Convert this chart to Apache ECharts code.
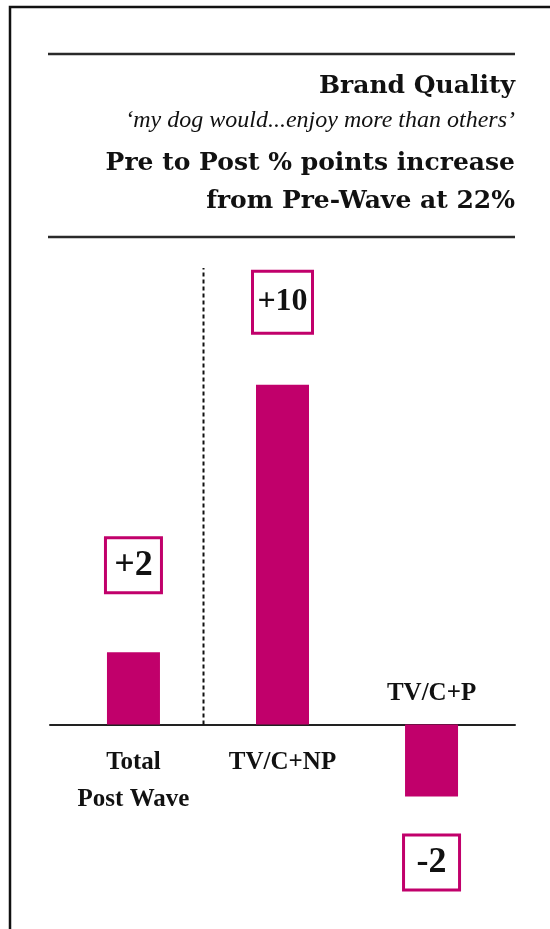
<!DOCTYPE html>
<html>
<head>
<meta charset="utf-8">
<script src="https://cdn.jsdelivr.net/npm/echarts@6/dist/echarts.min.js"></script>
<style>
  html, body { margin: 0; padding: 0; background: #fff; }
  #chart { width: 550px; height: 929px; }
</style>
</head>
<body>
<div id="chart"></div>
<script>
// chart data
const categories = ["Total\nPost Wave", "TV/C+NP", "TV/C+P"];
const values = [2.1, 9.9, -2.1];
const valueLabels = ["+2", "+10", "-2"];
const titleLines = [
  "Brand Quality",
  "\u2018my dog would...enjoy more than others\u2019",
  "Pre to Post % points increase",
  "from Pre-Wave at 22%",
];
// divider between total and the split (x in category units, y top)
const dividerX = 0.47;
const dividerTop = 13.3;

const magenta = "#c1006b";
const serifBold = "'DejaVu Serif', serif";
const serifText = "'Liberation Serif', 'Times New Roman', serif";

const chart = echarts.init(document.getElementById("chart"));

const titleStyles = [
  { top: 74, fontSize: 25, fontWeight: "bold", fontStyle: "normal", font: serifBold },
  { top: 109, fontSize: 24, fontWeight: "normal", fontStyle: "italic", font: serifText },
  { top: 151, fontSize: 25, fontWeight: "bold", fontStyle: "normal", font: serifBold },
  { top: 189, fontSize: 25, fontWeight: "bold", fontStyle: "normal", font: serifBold },
];

const title = titleLines.map((t, i) => ({
  text: t,
  right: 35,
  top: titleStyles[i].top,
  padding: 0,
  textStyle: {
    fontFamily: titleStyles[i].font,
    fontSize: titleStyles[i].fontSize,
    fontWeight: titleStyles[i].fontWeight,
    fontStyle: titleStyles[i].fontStyle,
    lineHeight: titleStyles[i].fontSize,
    color: "#111",
  },
}));

// value box label settings per bar
const boxSpec = [
  { w: 53, h: 52, size: 36, dist: 61 },
  { w: 57, h: 59, size: 32, dist: 53 },
  { w: 53, h: 52, size: 36, dist: 40 },
];

const barData = values.map((v, i) => ({
  value: [i, v],
  label: {
    show: true,
    position: v < 0 ? "bottom" : "top",
    verticalAlign: v < 0 ? "top" : "bottom",
    distance: boxSpec[i].dist,
    formatter: valueLabels[i],
    width: boxSpec[i].w,
    height: boxSpec[i].h,
    lineHeight: boxSpec[i].h,
    align: "center",
    backgroundColor: "#fff",
    borderColor: magenta,
    borderWidth: 3,
    fontFamily: serifText,
    fontWeight: "bold",
    fontSize: boxSpec[i].size,
    color: "#111",
  },
}));

const catLabelData = categories.map((c, i) => ({
  value: [i, 0],
  name: c,
  label: {
    show: true,
    position: values[i] < 0 ? "top" : "bottom",
    distance: values[i] < 0 ? 12 : 20,
    formatter: "{b}",
    fontFamily: serifText,
    fontWeight: "bold",
    fontSize: 25,
    lineHeight: 37,
    align: "center",
    color: "#111",
  },
}));

const option = {
  animation: false,
  backgroundColor: "#fff",
  title,
  grid: { left: 50, right: 35, top: 244, bottom: 33 },
  xAxis: {
    type: "value",
    min: -0.56,
    max: 2.56,
    axisLine: { show: true, onZero: true, lineStyle: { color: "#222", width: 2 } },
    axisTick: { show: false },
    axisLabel: { show: false },
    splitLine: { show: false },
  },
  yAxis: {
    type: "value",
    min: -5,
    max: 14,
    show: false,
  },
  series: [
    {
      type: "bar",
      barWidth: 53,
      itemStyle: { color: magenta },
      data: barData,
      z: 3,
    },
    {
      type: "line",
      data: [[dividerX, 0], [dividerX, dividerTop]],
      showSymbol: false,
      lineStyle: { color: "#111", width: 2, type: [4, 3] },
      z: 2,
    },
    {
      type: "scatter",
      symbolSize: 0,
      silent: true,
      itemStyle: { opacity: 1 },
      data: catLabelData,
      z: 4,
    },
  ],
  graphic: [
    {
      type: "rect",
      shape: { x: 10, y: 7, width: 620, height: 1000 },
      style: { fill: null, stroke: "#111", lineWidth: 2.5 },
      silent: true,
    },
    {
      type: "line",
      shape: { x1: 48, y1: 54, x2: 515, y2: 54 },
      style: { stroke: "#2a2a2a", lineWidth: 2.5 },
      silent: true,
    },
    {
      type: "line",
      shape: { x1: 48, y1: 237, x2: 515, y2: 237 },
      style: { stroke: "#2a2a2a", lineWidth: 2.5 },
      silent: true,
    },
  ],
};

chart.setOption(option);
</script>
</body>
</html>
